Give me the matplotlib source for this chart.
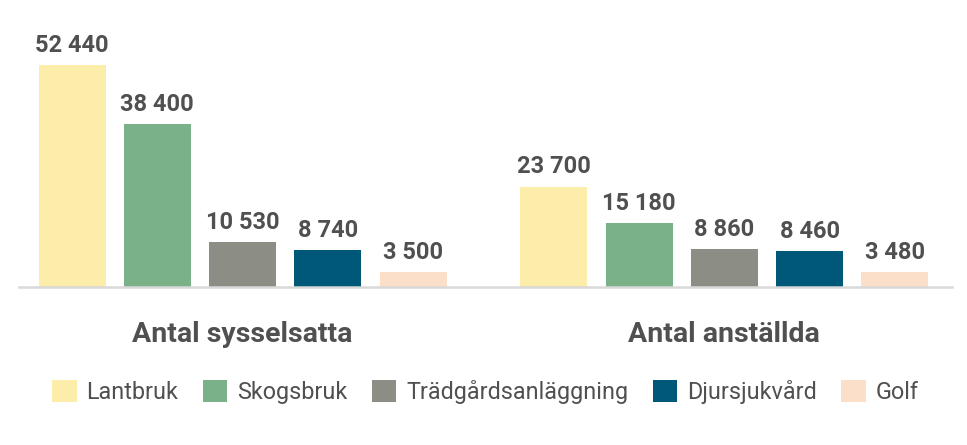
import matplotlib
matplotlib.use("Agg")
import matplotlib.pyplot as plt
from matplotlib.patches import Patch
from matplotlib.transforms import blended_transform_factory

plt.rcParams['font.family'] = ['Roboto', 'DejaVu Sans']

categories = ["Lantbruk", "Skogsbruk", "Trädgårdsanläggning", "Djursjukvård", "Golf"]
groups = ["Antal sysselsatta", "Antal anställda"]
sysselsatta = [52440, 38400, 10530, 8740, 3500]
anstallda = [23700, 15180, 8860, 8460, 3480]
colors = ["#FDEDAA", "#7AB189", "#8C8E86", "#005878", "#FCDFC8"]

text_color = "#505050"
group_offset = 5.65
bar_w = 0.786

fig = plt.figure(figsize=(9.67, 4.45), dpi=100)
# axes spanning the grey base line, from x=19px to 952px, baseline at y=287px
ax = fig.add_axes([19 / 967, 158 / 445, 933 / 967, 267 / 445])

def fmt(v):
    return f"{v:,}".replace(",", " ")

for g, vals in enumerate([sysselsatta, anstallda]):
    xs = [i + g * group_offset for i in range(len(vals))]
    ax.bar(xs, vals, width=bar_w, color=colors)
    for x, v in zip(xs, vals):
        ax.annotate(fmt(v), (x, v), xytext=(0, 9.5), textcoords="offset points",
                    ha="center", va="baseline", fontsize=17, fontweight="bold",
                    color=text_color)
    center = (xs[0] + xs[-1]) / 2
    trans = blended_transform_factory(ax.transData, fig.transFigure)
    ax.text(center, 1 - 342 / 445, groups[g], transform=trans, ha="center",
            va="baseline", fontsize=20.5, fontweight="bold", color=text_color)

ax.set_xlim(-0.622, 10.32)
ax.set_ylim(0, 52440 * 267 / 222)
for s in ["top", "right", "left"]:
    ax.spines[s].set_visible(False)
ax.spines["bottom"].set_color("#d9d9d9")
ax.spines["bottom"].set_linewidth(1.8)
ax.set_xticks([])
ax.set_yticks([])

handles = [Patch(facecolor=c, edgecolor="none") for c in colors]
leg = fig.legend(handles, categories, loc="center", bbox_to_anchor=(0.502, 1 - 392 / 445),
                 ncol=5, frameon=False, fontsize=16.8, handlelength=1.05, handleheight=1.05,
                 handletextpad=0.42, columnspacing=1.05, borderaxespad=0)
for t in leg.get_texts():
    t.set_color(text_color)

fig.savefig("out.png", dpi=100)
